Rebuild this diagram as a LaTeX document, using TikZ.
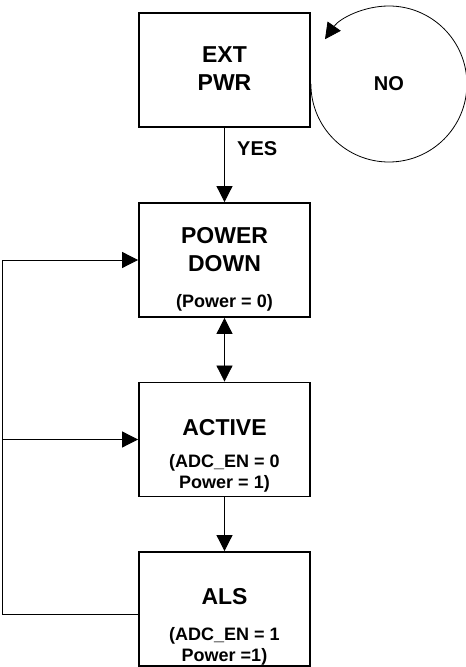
\documentclass[tikz,border=0pt]{standalone}
\usepackage{fontspec}
\setmainfont{Liberation Sans}
\usetikzlibrary{arrows.meta,positioning}

\tikzset{arr/.tip={Triangle[length=16pt,width=16pt]}}

\begin{document}
\begin{tikzpicture}[x=1pt,y=1pt,
    box/.style={draw,rectangle,line width=1.8pt,minimum width=171pt,minimum height=114pt,inner sep=0pt},
    title/.style={align=center,font=\fontsize{23}{28}\selectfont\bfseries},
    sub/.style={align=center,font=\fontsize{18}{21}\selectfont\bfseries},
    tag/.style={font=\fontsize{20}{24}\selectfont\bfseries},
    conn/.style={line width=0.8pt,-arr},
    both/.style={line width=0.8pt,arr-arr}]

    \useasboundingbox (0,0) rectangle (466,667);

    % Draw the four state boxes, one under the other
    \foreach \name/\y in {ext/597, pd/407, act/227.5, als/58} {
        \node[box] (\name) at (224.5,\y) {};
    }

    % Texts inside the boxes
    \node[title] (ext-t) at ([yshift=1pt]ext.center) {EXT\\PWR};
    \node[title] (pd-t) at ([yshift=10pt]pd.center) {POWER\\DOWN};
    \node[sub] (pd-s) at ([yshift=-43pt]pd.center) {(Power = 0)};
    \node[title] (act-t) at ([yshift=12pt]act.center) {ACTIVE};
    \node[sub] (act-s) at ([yshift=-34pt]act.center) {(ADC\_EN = 0\\Power = 1)};
    \node[title] (als-t) at ([yshift=12pt]als.center) {ALS};
    \node[sub] (als-s) at ([yshift=-37pt]als.center) {(ADC\_EN = 1\\Power =1)};

    % Arrows down the column
    \draw[conn] (ext) -- node[tag,pos=0.28,right=9pt] (yes) {YES} (pd);
    \draw[both] (pd) -- (act);
    \draw[conn] (act) -- (als);

    % Waiting loop on the right of EXT PWR
    \coordinate (loopin) at ([yshift=-14pt]ext.east);
    \draw[conn] (loopin) arc[start angle=180,end angle=505,radius=78pt];
    \node[tag] (no) at ([xshift=78pt]loopin) {NO};

    % Line back from ALS on the left side
    \coordinate (rail) at ([xshift=-136pt,yshift=-5pt]als.west);
    \draw[conn] ([yshift=-5pt]als.west) -- (rail) |- (pd.west);
    \draw[conn] (rail |- act.west) -- (act.west);
\end{tikzpicture}
\end{document}
